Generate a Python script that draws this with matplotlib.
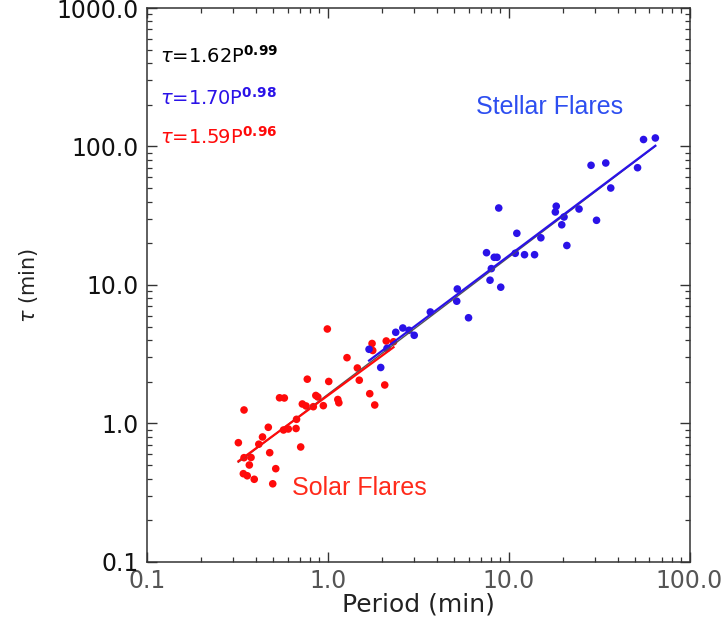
import matplotlib
matplotlib.use("Agg")
import matplotlib.pyplot as plt
import numpy as np
from matplotlib.ticker import FixedLocator, FormatStrFormatter, LogLocator, NullFormatter

# --- Data: oscillation period vs. damping time ---
solar_period = [0.995, 1.758, 2.106, 2.310, 1.773, 1.278, 1.458, 1.494, 2.066, 1.707,
                1.819, 0.771, 1.013, 0.5415, 0.5755, 0.8594, 0.8815, 0.7238, 0.7586,
                0.8324, 0.9455, 1.137, 1.152, 0.3446, 0.4694, 0.6724, 0.5696, 0.6056,
                0.6681, 0.4360, 0.4159, 0.3206, 0.7088, 0.4778, 0.3446, 0.3767, 0.3686,
                0.5160, 0.3416, 0.3589, 0.3924, 0.4966]
solar_tau = [4.812, 3.781, 3.942, 3.890, 3.366, 2.987, 2.516, 2.054, 1.897, 1.641,
             1.360, 2.089, 2.011, 1.533, 1.528, 1.593, 1.554, 1.383, 1.338, 1.322,
             1.345, 1.490, 1.411, 1.252, 0.9388, 1.072, 0.8976, 0.9126, 0.9203,
             0.7990, 0.7087, 0.7267, 0.6767, 0.6154, 0.5664, 0.5683, 0.5015, 0.4718,
             0.4341, 0.4193, 0.3955, 0.3669]

stellar_period = [1.692, 1.963, 2.127, 2.376, 2.601, 2.815, 3.007, 3.691, 5.204, 5.165,
                  6.003, 7.546, 8.325, 8.627, 8.816, 7.890, 8.024, 9.044, 10.88, 11.10,
                  12.24, 13.91, 15.07, 18.12, 18.33, 19.66, 20.24, 20.98, 24.50, 30.61,
                  28.55, 34.43, 36.68, 51.60, 55.68, 64.71]
stellar_tau = [3.434, 2.537, 3.491, 4.555, 4.892, 4.710, 4.334, 6.384, 9.357, 7.638,
               5.800, 17.11, 15.85, 15.85, 35.97, 10.83, 13.13, 9.641, 16.94, 23.62,
               16.55, 16.55, 21.92, 33.66, 37.07, 27.21, 30.97, 19.28, 35.38, 29.32,
               73.16, 76.01, 50.15, 70.29, 112.3, 115.2]

# power-law fits tau = A * P^B
fit_all = (1.62, 0.99)
fit_stellar = (1.70, 0.98)
fit_solar = (1.59, 0.96)

RED = "#ff0a0a"
BLUE = "#2a12e8"

fig = plt.figure(figsize=(7.24, 6.40), dpi=100)
ax = fig.add_axes([0.2028, 0.1219, 0.7496, 0.8656])

ax.scatter(solar_period, solar_tau, s=30, color=RED, edgecolors="none", zorder=3)
ax.scatter(stellar_period, stellar_tau, s=30, color=BLUE, edgecolors="none", zorder=3)

def fit_line(period, coeffs):
    p = np.logspace(np.log10(min(period)), np.log10(max(period)), 50)
    return p, coeffs[0] * p ** coeffs[1]

p, t = fit_line(solar_period + stellar_period, fit_all)
ax.plot(p, t, color="#555555", lw=1.0, zorder=4)
p, t = fit_line(solar_period, fit_solar)
ax.plot(p, t, color=RED, lw=1.6, zorder=5)
p, t = fit_line(stellar_period, fit_stellar)
ax.plot(p, t, color=BLUE, lw=1.6, zorder=5)

ax.set_xscale("log")
ax.set_yscale("log")
ax.set_xlim(0.1, 100)
ax.set_ylim(0.1, 1000)

for axis in (ax.xaxis, ax.yaxis):
    axis.set_major_formatter(FormatStrFormatter("%.1f"))
    axis.set_minor_locator(LogLocator(base=10, subs=np.arange(2, 10)))
    axis.set_minor_formatter(NullFormatter())
ax.xaxis.set_major_locator(FixedLocator([0.1, 1, 10, 100]))
ax.yaxis.set_major_locator(FixedLocator([0.1, 1, 10, 100, 1000]))

ax.tick_params(which="both", direction="in", top=True, right=True, colors="#333333")
ax.tick_params(which="major", length=7.2, width=1.0)
ax.tick_params(which="minor", length=3.6, width=0.9)
ax.tick_params(axis="x", which="major", labelsize=17, labelcolor="#555555", pad=5)
ax.tick_params(axis="y", which="major", labelsize=17, labelcolor="#111111", pad=6)
for spine in ax.spines.values():
    spine.set_color("#333333")
    spine.set_linewidth(1.1)

ax.set_xlabel("Period (min)", fontsize=18, color="#222222", labelpad=0)
ax.set_ylabel(r"$\tau$ (min)", fontsize=15, color="#222222", labelpad=12)

# fit equations
eqs = [(fit_all, "black", 56), (fit_stellar, BLUE, 98), (fit_solar, RED, 137)]
for (a, b), col, ypix in eqs:
    fig.text(160 / 724, 1 - ypix / 640,
             r"$\tau$=%.2fP$^{\mathbf{%.2f}}$" % (a, b),
             fontsize=14, color=col, va="center", ha="left")

fig.text(476 / 724, 1 - 107 / 640, "Stellar Flares",
         fontsize=18, color="#2d4ef0", family="Liberation Sans", va="center", ha="left")
fig.text(292 / 724, 1 - 488 / 640, "Solar Flares",
         fontsize=18, color="#ff2a1a", family="Liberation Sans", va="center", ha="left")

fig.savefig("out.png", dpi=100)
